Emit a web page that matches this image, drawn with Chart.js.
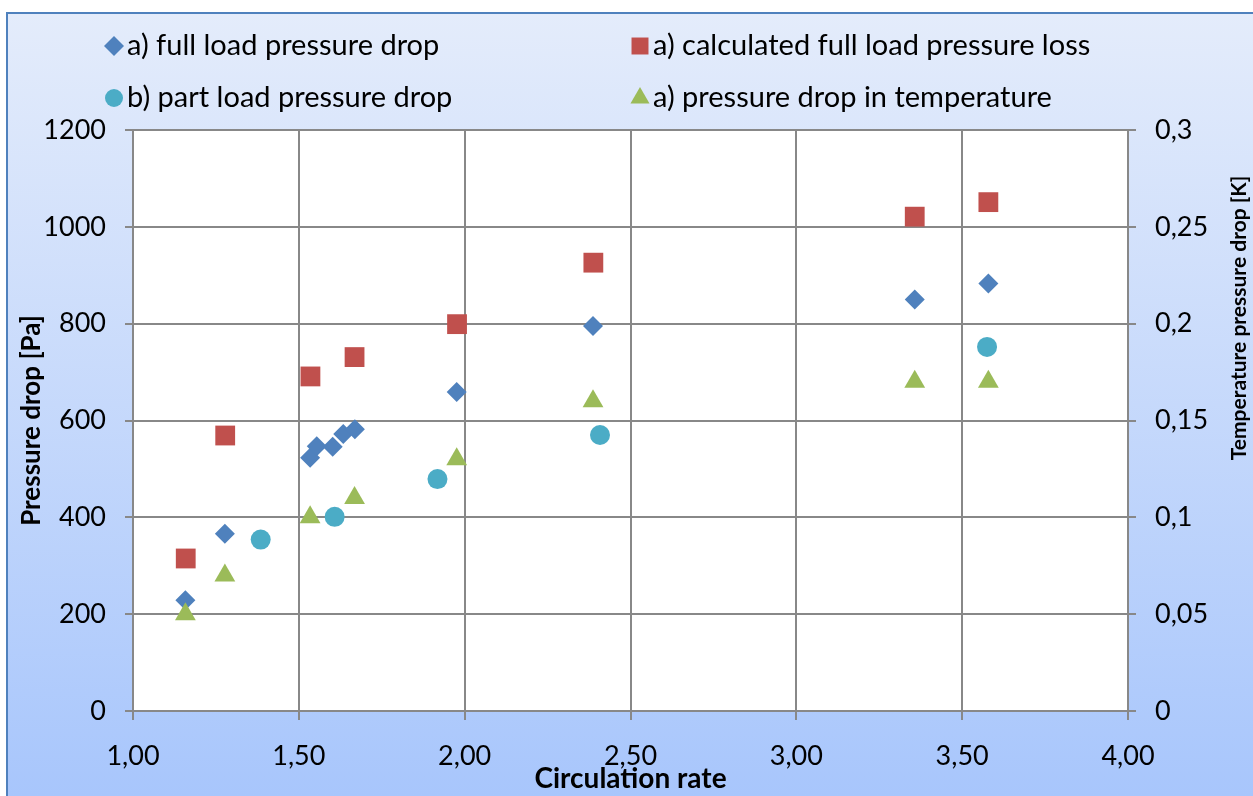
<!DOCTYPE html>
<html lang="en">
  <head>
    <meta charset="UTF-8" />
    <title>Pressure drop vs circulation rate</title>
    <style>
      body { margin: 0; background: #ffffff; }
    </style>
  </head>

  <body>
    <script src="https://cdn.jsdelivr.net/npm/chart.js"></script>
    <canvas id="scatter-chart" width="1253" height="796"></canvas>

    <script>
      // values
      const fullLoadRate = [1.158, 1.277, 1.534, 1.554, 1.602, 1.634, 1.669, 1.976, 2.387, 3.357, 3.579]
      const fullLoadDrop = [229, 366, 523, 547, 546, 572, 582, 659, 795, 850, 883]

      const calcRate = [1.159, 1.278, 1.535, 1.668, 1.977, 2.388, 3.357, 3.579]
      const calcLoss = [315, 569, 691, 731, 799, 926, 1021, 1051]

      const partRate = [1.385, 1.608, 1.918, 2.408, 3.575]
      const partDrop = [354, 401, 479, 570, 752]

      const tempRate = [1.158, 1.277, 1.534, 1.668, 1.976, 2.387, 3.357, 3.579]
      const tempDrop = [0.05, 0.07, 0.1, 0.11, 0.13, 0.16, 0.17, 0.17]

      const seriesLabels = [
        'a) full load pressure drop',
        'a) calculated full load pressure loss',
        'b) part load pressure drop',
        'a) pressure drop in temperature',
      ]

      const toPoints = (xs, ys) => xs.map((x, i) => ({ x: x, y: ys[i] }))
      const comma = (v, d) => (d == null ? String(Number(v.toFixed(3))) : v.toFixed(d)).replace('.', ',')

      const FONT = 'Lato, "Open Sans", sans-serif'
      const GRID = '#888888'

      const background = {
        id: 'background',
        beforeDraw(chart) {
          const { ctx, width, height } = chart
          ctx.save()
          const g = ctx.createLinearGradient(0, 13, 0, height)
          g.addColorStop(0, '#e4ecfb')
          g.addColorStop(1, '#a8c6fc')
          ctx.fillStyle = g
          ctx.fillRect(7, 13, width, height)
          ctx.strokeStyle = '#4f81bd'
          ctx.lineWidth = 2
          ctx.strokeRect(7, 13, width + 10, height + 10)
          const a = chart.chartArea
          ctx.fillStyle = '#ffffff'
          ctx.fillRect(a.left, a.top, a.right - a.left, a.bottom - a.top)
          ctx.restore()
        },
      }

      // legend in two columns, like the original
      const gridLegend = {
        id: 'gridLegend',
        afterDraw(chart) {
          const { ctx } = chart
          const cols = [114, 640]
          const rows = [46, 98]
          ctx.save()
          ctx.font = '29px ' + FONT
          ctx.textBaseline = 'middle'
          chart.data.datasets.forEach((ds, i) => {
            const x = cols[i % 2]
            const y = rows[Math.floor(i / 2)]
            ctx.fillStyle = ds.backgroundColor
            ctx.strokeStyle = ds.backgroundColor
            Chart.helpers.drawPoint(ctx, {
              pointStyle: ds.pointStyle,
              radius: ds.legendRadius,
              rotation: 0,
              borderWidth: 0,
            }, x, y)
            ctx.fillStyle = '#000000'
            ctx.fillText(ds.label, x + 13, y)
          })
          ctx.restore()
        },
      }

      // right axis title reads bottom to top
      const rightTitle = {
        id: 'rightTitle',
        afterDraw(chart) {
          const { ctx } = chart
          ctx.save()
          ctx.translate(1239, 318)
          ctx.rotate(-Math.PI / 2)
          ctx.font = 'bold 21px ' + FONT
          ctx.textAlign = 'center'
          ctx.textBaseline = 'middle'
          ctx.fillStyle = '#000000'
          ctx.fillText('Temperature pressure drop [K]', 0, 0)
          ctx.restore()
        },
      }

      new Chart(document.getElementById('scatter-chart'), {
        type: 'scatter',
        data: {
          datasets: [
            {
              label: seriesLabels[0],
              data: toPoints(fullLoadRate, fullLoadDrop),
              backgroundColor: '#4f81bd',
              borderColor: '#4f81bd',
              pointStyle: 'rectRot',
              pointRadius: 10,
              legendRadius: 10,
              yAxisID: 'y',
              order: 4,
            },
            {
              label: seriesLabels[1],
              data: toPoints(calcRate, calcLoss),
              backgroundColor: '#c0504d',
              borderColor: '#c0504d',
              pointStyle: 'rect',
              pointRadius: 14,
              legendRadius: 12,
              yAxisID: 'y',
              order: 3,
            },
            {
              label: seriesLabels[2],
              data: toPoints(partRate, partDrop),
              backgroundColor: '#4bacc6',
              borderColor: '#4bacc6',
              pointStyle: 'circle',
              pointRadius: 10,
              legendRadius: 9,
              yAxisID: 'y',
              order: 2,
            },
            {
              label: seriesLabels[3],
              data: toPoints(tempRate, tempDrop),
              backgroundColor: '#9bbb59',
              borderColor: '#9bbb59',
              pointStyle: 'triangle',
              pointRadius: 12,
              legendRadius: 11,
              yAxisID: 'y2',
              order: 1,
            },
          ],
        },
        options: {
          responsive: false,
          animation: false,
          layout: { padding: { top: 130, left: 0, right: 0, bottom: 0 } },
          elements: { point: { borderWidth: 0, hoverRadius: 0 } },
          plugins: {
            legend: { display: false },
            tooltip: { enabled: false },
          },
          scales: {
            x: {
              type: 'linear',
              min: 1,
              max: 4,
              ticks: {
                stepSize: 0.5,
                padding: 20,
                color: '#000000',
                font: { family: FONT, size: 27 },
                callback: (v) => comma(v, 2),
              },
              grid: { color: GRID, lineWidth: 2, tickLength: 9 },
              border: { color: GRID, width: 2 },
              title: {
                display: true,
                text: 'Circulation rate',
                color: '#000000',
                font: { family: FONT, size: 28, weight: 'bold' },
                padding: { top: 0, bottom: 0 },
              },
              afterFit: (s) => { s.height = 85 },
            },
            y: {
              position: 'left',
              min: 0,
              max: 1200,
              ticks: {
                stepSize: 200,
                padding: 19,
                color: '#000000',
                font: { family: FONT, size: 27 },
                callback: (v) => String(v),
              },
              grid: { color: GRID, lineWidth: 2, tickLength: 8 },
              border: { color: GRID, width: 2 },
              title: {
                display: true,
                text: 'Pressure drop [Pa]',
                color: '#000000',
                font: { family: FONT, size: 26, weight: 'bold' },
                padding: { top: 16, bottom: 0 },
              },
              afterFit: (s) => { s.width = 133 },
            },
            y2: {
              position: 'right',
              min: 0,
              max: 0.3,
              ticks: {
                stepSize: 0.05,
                padding: 19,
                color: '#000000',
                font: { family: FONT, size: 27 },
                callback: (v) => comma(v),
              },
              grid: { drawOnChartArea: false, color: GRID, lineWidth: 2, tickLength: 8 },
              border: { color: GRID, width: 2 },
              afterFit: (s) => { s.width = 125 },
            },
          },
        },
        plugins: [background, gridLegend, rightTitle],
      })
    </script>
  </body>
</html>
